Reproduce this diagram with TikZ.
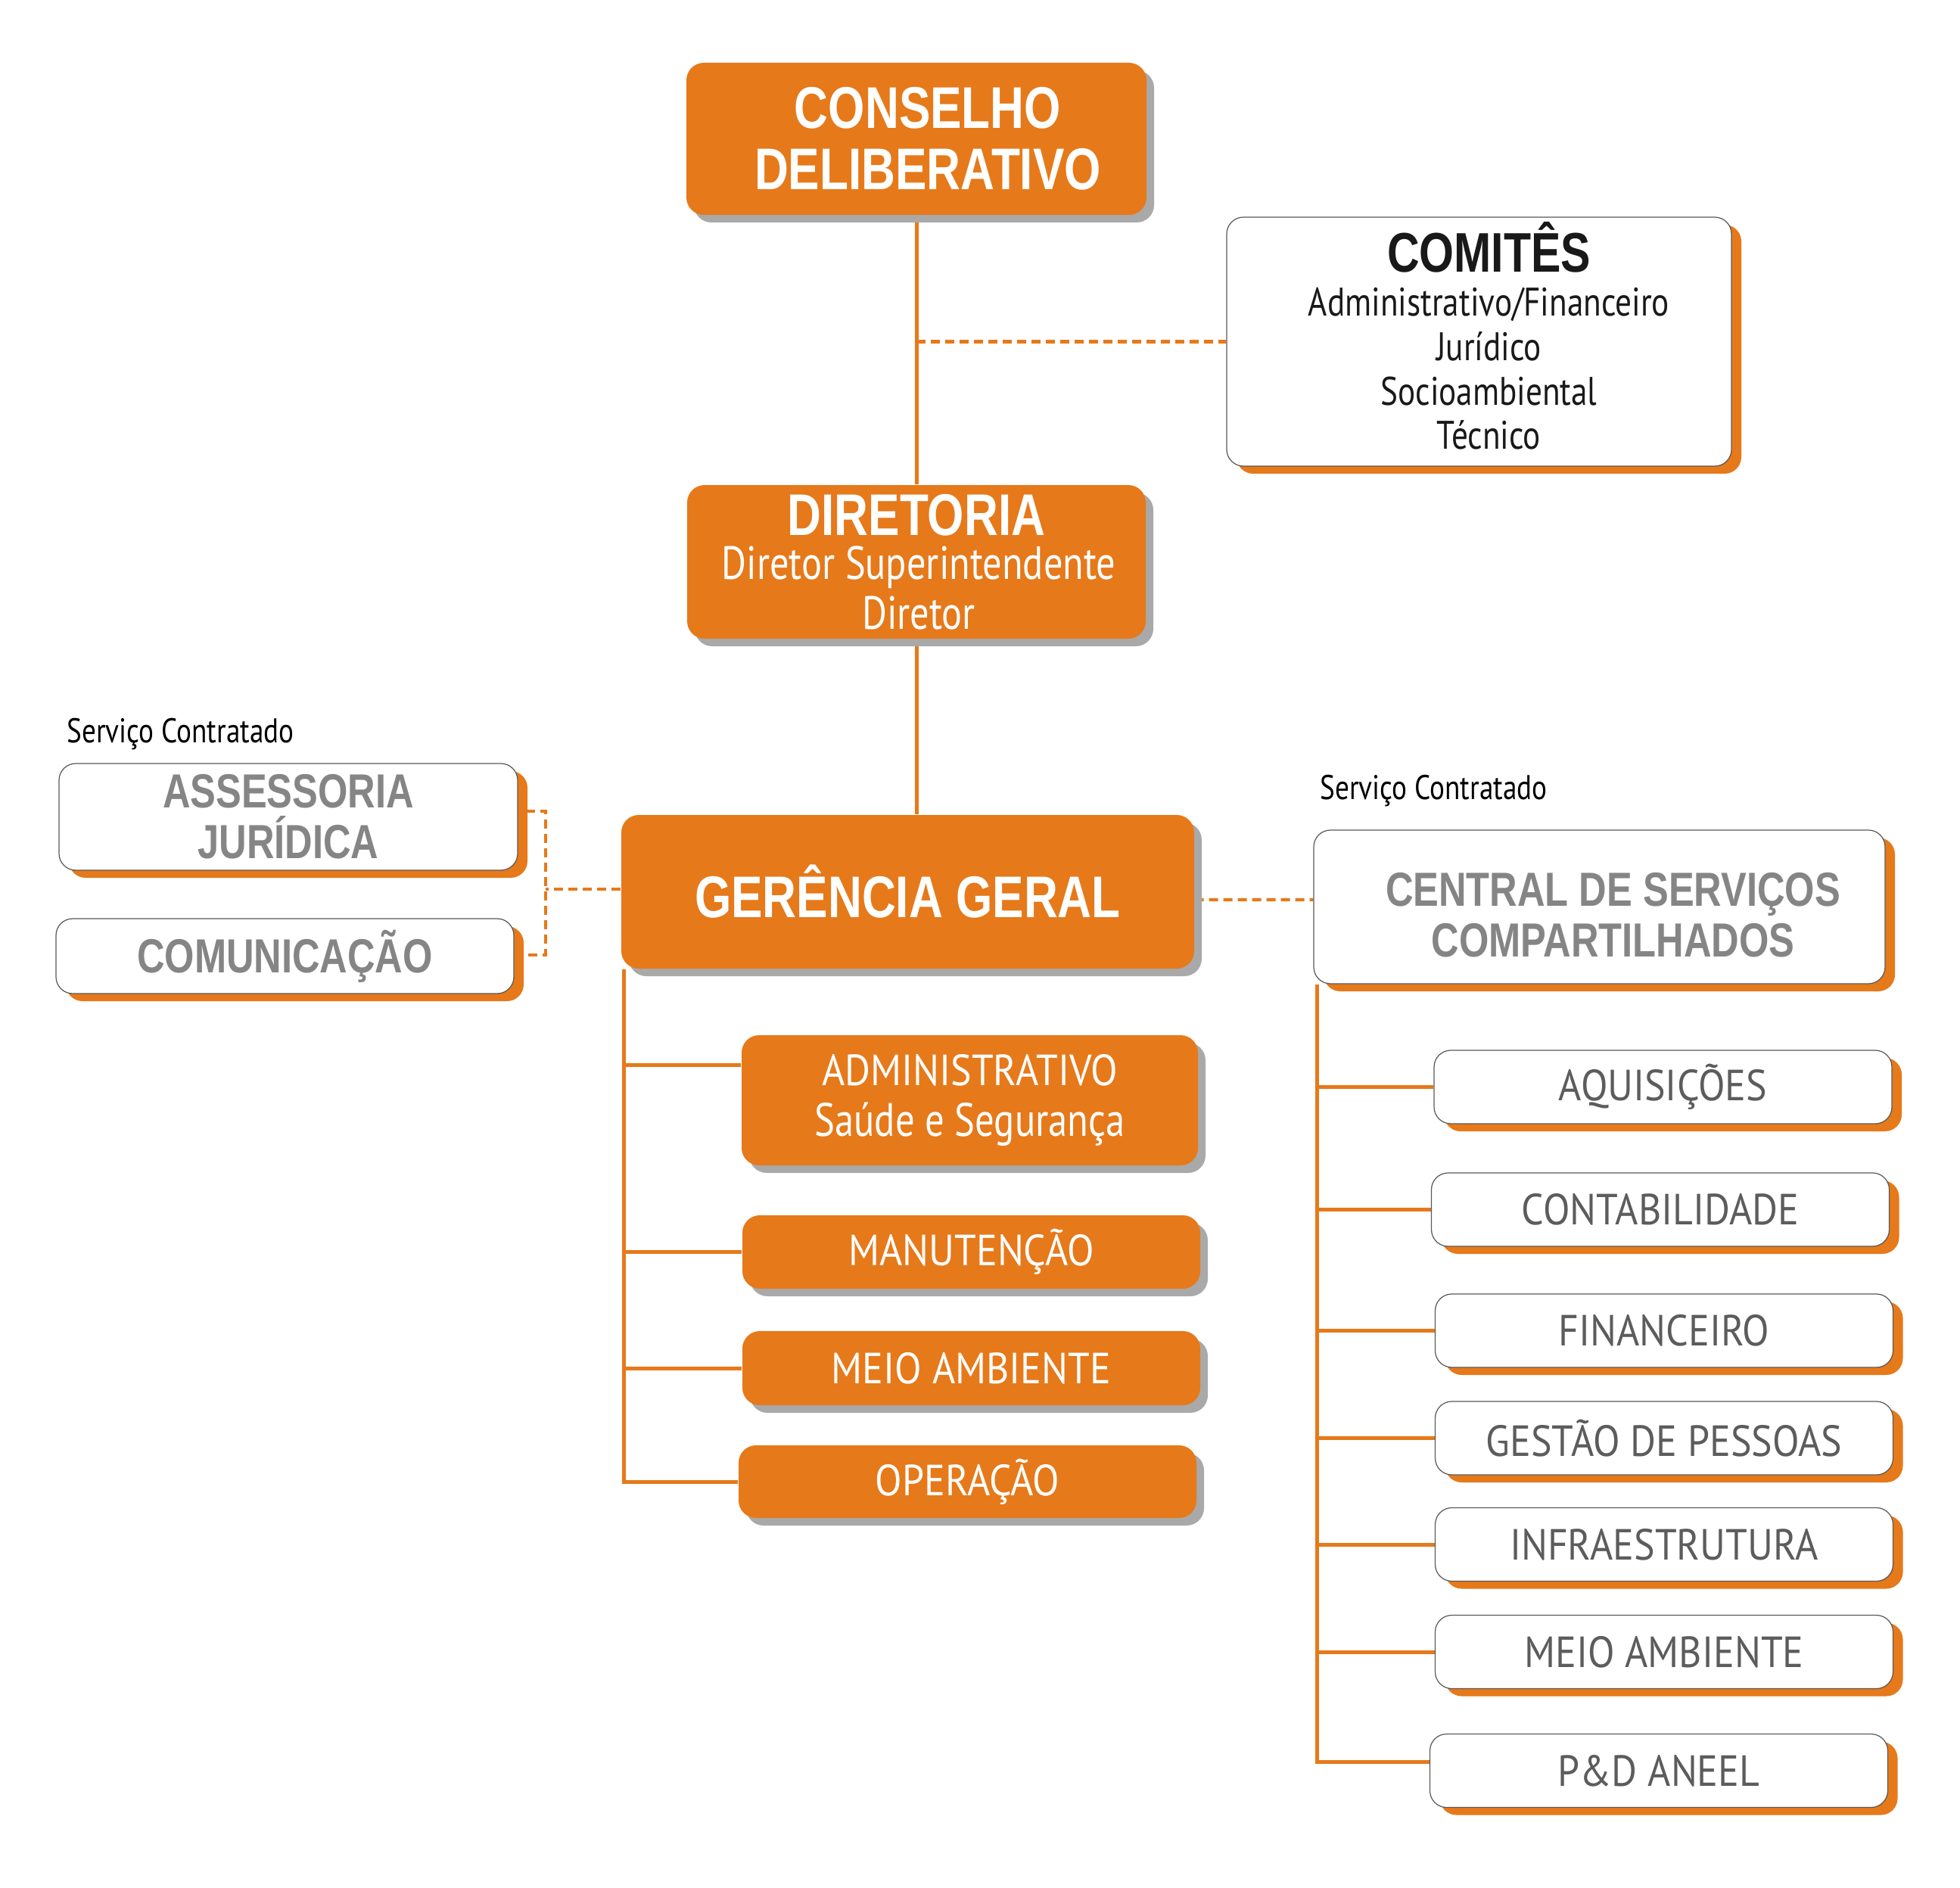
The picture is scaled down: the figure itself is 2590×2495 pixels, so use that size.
\documentclass[tikz,border=0pt]{standalone}
\usepackage{fontspec}
\usetikzlibrary{shadows,backgrounds}
\newfontfamily\hdfont[FakeStretch=0.8]{Liberation Sans}
\newfontfamily\rgfont[FakeStretch=0.82]{PT Sans}
\newfontfamily\capfont[FakeStretch=0.9]{PT Sans}
\definecolor{org}{HTML}{E6791A}
\definecolor{shd}{HTML}{A9A9A9}
\definecolor{gtx}{HTML}{858585}
\definecolor{gtx2}{HTML}{5C5C5C}
\tikzset{
  obox/.style={fill=org, rounded corners=2.3mm, text=white, align=center, inner sep=0pt,
    drop shadow={shadow xshift=1.0mm, shadow yshift=-1.0mm, fill=shd, opacity=1}},
  wbox/.style={fill=white, draw=black!65, line width=0.35pt, rounded corners=2.2mm, align=center, inner sep=0pt,
    drop shadow={shadow xshift=1.3mm, shadow yshift=-1.0mm, fill=org, opacity=1}},
  bigbold/.style={font=\hdfont\bfseries\fontsize{22.1}{23}\selectfont},
  midbold/.style={font=\hdfont\bfseries\fontsize{18}{19}\selectfont, text=gtx},
  capreg/.style={font=\capfont\fontsize{16.4}{19}\selectfont},
  conn/.style={draw=org, line width=0.5mm},
  dsh/.style={draw=org, line width=0.42mm, dash pattern=on 1.2mm off 0.7mm},
  lbl/.style={font=\rgfont\fontsize{12.9}{14}\selectfont, anchor=base west, inner sep=0pt},
}
\begin{document}
\begin{tikzpicture}[x=0.1mm, y=-0.1mm]
\useasboundingbox (0,0) rectangle (2590,2495);

% top chain
\node[obox, bigbold, minimum width=60.8mm, minimum height=20.1mm] (con) at (1211,183.5)
  {\hspace*{3mm}CONSELHO\\\hspace*{3mm}DELIBERATIVO};
\node[wbox, text=black!90, font=\rgfont\fontsize{15}{16.7}\selectfont, minimum width=66.7mm, minimum height=32.9mm] (com) at (1954.5,451.5)
  {\hspace*{2.6mm}{\hdfont\bfseries\fontsize{21}{23}\selectfont COMITÊS}\\[0mm]
   \hspace*{2.6mm}Administrativo/Financeiro\\\hspace*{2.6mm}Jurídico\\\hspace*{2.6mm}Socioambiental\\\hspace*{2.6mm}Técnico\rule[-1.6mm]{0pt}{1mm}};
\node[obox, font=\rgfont\fontsize{17.5}{18.7}\selectfont, minimum width=60.6mm, minimum height=20.3mm] (dir) at (1211,742.5)
  {{\hdfont\bfseries\fontsize{22.1}{23}\selectfont DIRETORIA}\\[-0.7mm]
   \hspace*{0.6mm}Diretor Superintendente\\\hspace*{0.6mm}Diretor};
\node[obox, bigbold, minimum width=75.7mm, minimum height=20.3mm] (ger) at (1199.5,1178.5) {GERÊNCIA GERAL};

% left contracted
\node[lbl] (sc1) at (88,981) {Serviço Contratado};
\node[wbox, midbold, minimum width=60.6mm, minimum height=14.1mm] (ass) at (381,1079.5) {ASSESSORIA\\JURÍDICA};
\node[wbox, midbold, minimum width=60.5mm, minimum height=9.9mm] (comu) at (376.5,1263.5) {COMUNICAÇÃO};

% right contracted
\node[lbl] (sc2) at (1744,1056) {Serviço Contratado};
\node[wbox, midbold, minimum width=75.5mm, minimum height=20.3mm] (cen) at (2113.5,1198.5)
  {\rule{0pt}{6.6mm}\hspace*{3.6mm}CENTRAL DE SERVIÇOS\\\hspace*{3.6mm}COMPARTILHADOS};

% left children
\node[obox, capreg, minimum width=60.3mm, minimum height=17.2mm] (adm) at (1281.5,1454)
  {ADMINISTRATIVO\\{\rgfont\fontsize{17.6}{19}\selectfont Saúde e Segurança}};
\node[obox, capreg, minimum width=60.5mm, minimum height=9.7mm] (man) at (1283.5,1654.5) {MANUTENÇÃO};
\node[obox, capreg, minimum width=60.5mm, minimum height=9.8mm] (mei) at (1283.5,1808) {MEIO AMBIENTE};
\node[obox, capreg, minimum width=60.5mm, minimum height=9.6mm] (ope) at (1278.5,1958) {OPERAÇÃO};

% right children
\tikzset{rbox/.style={wbox, capreg, text=gtx2, minimum width=60.5mm, minimum height=9.7mm}}
\node[rbox] (aq) at (2197.5,1436.5) {AQUISIÇÕES};
\node[rbox] (ct) at (2194,1598.5) {CONTABILIDADE};
\node[rbox] (fi) at (2199,1758.5) {FINANCEIRO};
\node[rbox] (gp) at (2199,1900.5) {GESTÃO DE PESSOAS};
\node[rbox] (in) at (2199,2041) {INFRAESTRUTURA};
\node[rbox] (ma) at (2199,2183) {MEIO AMBIENTE};
\node[rbox] (pd) at (2192,2340) {P\&D ANEEL};

\begin{scope}[on background layer]
  \draw[conn] (con.south) -- (dir.north);
  \draw[conn] (dir.south) -- (dir.south |- ger.north);
  \draw[dsh] (com.west -| con.south) -- (com.west);
  % left dashed bracket
  \draw[dsh] ([yshift=0.35mm]ger.west) -- ++(-9.9mm,0) coordinate (lj);
  \draw[dsh] ([xshift=1mm,yshift=0.75mm]ass.east) -| (lj) |- ([xshift=1mm,yshift=0.15mm]comu.east);
  % right dashed
  \draw[dsh] ([yshift=-1.05mm]ger.east) -- ([yshift=0.95mm]cen.west);
  % left tree
  \coordinate (lt) at ([xshift=0.4mm]ger.south west);
  \draw[conn] (lt) |- (ope.west);
  \draw[conn] ([yshift=4.7mm]adm.west) -| (lt);
  \draw[conn] (man.west) -- (man.west -| lt);
  \draw[conn] (mei.west) -- (mei.west -| lt);
  % right tree
  \coordinate (rt) at ([xshift=0.5mm]cen.south west);
  \draw[conn] (rt) |- ([yshift=1.2mm]pd.west);
  \foreach \n in {aq,ct,fi,gp,in,ma}{\draw[conn] (\n.west) -- (\n.west -| rt);}
\end{scope}
\end{tikzpicture}
\end{document}
